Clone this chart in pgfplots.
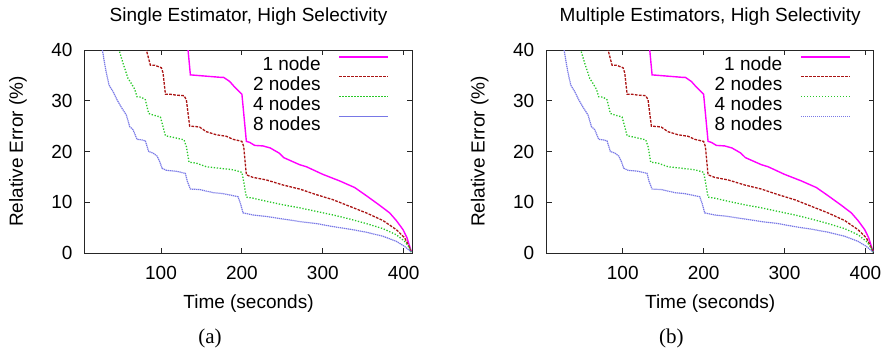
\documentclass[border=0pt]{standalone}
\usepackage{fontspec}
\setmainfont{Liberation Sans}
\newfontfamily\seriffont{Liberation Serif}
\usepackage{pgfplots}
\usepackage{pgfplotstable}
\pgfplotsset{compat=1.18}

\definecolor{cmag}{RGB}{255,0,255}
\definecolor{cred}{RGB}{170,20,20}
\definecolor{cgreen}{RGB}{40,200,40}
\definecolor{cblue}{RGB}{120,120,230}

\pgfplotstableread{
x y
133 45
133.4 40
136.3 35.1
174.6 34.6
177.5 34.6
184.9 33.8
191 32.7
200 31.3
205.5 22.0
209.6 21.8
215.8 21.2
226 21.1
235 20.7
245.9 19.7
251.6 18.8
271.4 17.4
279.7 17.0
300 15.5
320.9 14.2
339.4 12.9
353.8 11.3
370.3 9.4
382.7 7.9
390.9 6.4
399.2 4.6
404.1 3.0
407.4 1.3
409.5 0.3
}\one
\pgfplotstableread{
x y
80.5 42
81.9 40
86.8 37.0
92.2 37.0
100.4 36.5
102.5 35.5
105.4 31.3
110.7 31.3
119 31.1
128.4 31.0
131.3 30.2
135.4 25.0
143.7 24.9
147.8 24.8
156 23.9
168.4 23.3
180.8 23.0
189 22.4
200 22.0
202.2 21.0
205.5 15.4
213.7 14.9
230.2 14.4
236.4 14.1
250.8 13.4
271.4 12.6
292 11.5
312.6 10.5
333.2 9.2
353.8 7.9
374.4 6.4
390.9 4.6
401.2 3.0
406.6 1.3
409.5 0.1
}\two
\pgfplotstableread{
x y
46 42
48.1 40
53 37.4
59.2 34.4
63.3 33.4
67.4 32.3
70.3 30.8
75.7 30.7
80.6 30.2
84.7 27.5
90.1 27.2
99.2 26.8
102.5 24.9
105.4 23.1
114.8 22.8
128.4 22.3
131.3 21.0
134.6 17.9
143.7 17.7
156 17.0
172.5 16.7
189 16.4
200 15.9
202.2 14.1
205.5 11.0
213.7 10.8
230.2 10.2
250.8 9.5
271.4 8.9
292 8.2
312.6 7.5
333.2 6.7
353.8 5.8
374.4 4.8
390.9 3.6
401.2 2.3
407.4 1.0
409.5 0.1
}\four
\pgfplotstableread{
x y
26.5 42
27.5 40
31.6 36.1
35.7 33.1
40.7 31.8
45.6 30.2
51 28.7
57.1 27.2
61.3 24.9
65.4 24.3
70.3 22.4
75.7 22.3
80.6 22.1
84.7 20.0
90.1 19.7
95.1 19.1
98.4 18.0
101.2 16.7
106.6 16.3
119 16.1
130.1 15.7
132.6 14.1
136.3 12.6
147.8 12.5
164.3 11.9
176.6 11.7
195.2 11.1
198.1 9.8
201.4 7.9
213.7 7.5
230.2 7.2
250.8 6.7
271.4 6.2
292 5.8
312.6 5.2
333.2 4.7
353.8 4.1
374.4 3.3
390.9 2.3
401.2 1.3
409.5 0.2
}\eight

\pgfplotsset{
  myax/.style={
    scale only axis, width=327pt, height=203pt,
    xmin=6, xmax=410.3, ymin=0, ymax=40,
    xtick={100,200,300,400}, ytick={0,10,20,30,40},
    tick align=inside, major tick length=5pt,
    axis line style={line width=1pt, black!85},
    every tick/.style={line width=0.9pt, black!85},
    /pgf/number format/assume math mode=true,
    tick label style={font=\fontsize{19}{22}\selectfont, inner sep=0pt},
    xticklabel style={anchor=base, yshift=-26.3pt},
    yticklabel style={anchor=east, xshift=-12.3pt},
    label style={font=\fontsize{19}{22}\selectfont},
    title style={font=\fontsize{19}{22}\selectfont, at={(axis description cs:0.5,1)}, anchor=base, yshift=22.7pt, inner sep=0pt},
    xlabel style={at={(axis description cs:0.5,0)}, anchor=base, yshift=-55.3pt, inner sep=0pt},
    ylabel style={at={(axis description cs:0,0.5)}, anchor=center, yshift=67pt, inner sep=0pt},
    xlabel={Time (seconds)}, ylabel={Relative Error (\%)},
    legend plot pos=right,
    legend cell align=right,
    legend image code/.code={\draw[#1] (0pt,6.8pt) -- (49pt,6.8pt);},
    legend style={draw=none, fill=none, inner sep=0pt, outer sep=0pt,
      at={(rel axis cs:0.9297,0.9695)}, anchor=north east,
      font=\fontsize{19}{22}\selectfont,
      nodes={inner sep=0pt, text height=13.6pt, text depth=0pt},
      row sep=5.7pt, column sep=18pt},
  },
  s1/.style={cmag, line width=1.4pt},
  s2/.style={cred, line width=1.3pt, dash pattern=on 2.7pt off 1.3pt},
  s4/.style={cgreen, line width=1.3pt, dash pattern=on 1.3pt off 1.7pt},
  s8/.style={cblue, line width=1.2pt, dash pattern=on 1.3pt off 0.7pt},
}

\begin{document}
\begin{tikzpicture}
\path[use as bounding box] (0pt,0pt) rectangle (884pt,349pt);
\begin{axis}[myax, at={(85pt,96pt)}, anchor=south west,
  title={Single Estimator, High Selectivity}]
\addplot[s1] table[x=x,y=y] {\one};
\addplot[s2] table[x=x,y=y] {\two};
\addplot[s4] table[x=x,y=y] {\four};
\addplot[s8] table[x=x,y=y] {\eight};
\legend{1 node, 2 nodes, 4 nodes, 8 nodes}
\end{axis}
\begin{axis}[myax, at={(546.7pt,96pt)}, anchor=south west,
  title={Multiple Estimators, High Selectivity}]
\addplot[s1] table[x=x,y=y] {\one};
\addplot[s2] table[x=x,y=y] {\two};
\addplot[s4] table[x=x,y=y] {\four};
\addplot[s8] table[x=x,y=y] {\eight};
\legend{1 node, 2 nodes, 4 nodes, 8 nodes}
\end{axis}
\node[anchor=base, font=\seriffont\fontsize{21}{24}\selectfont, inner sep=0pt] at (210pt,5.7pt) {(a)};
\node[anchor=base, font=\seriffont\fontsize{21}{24}\selectfont, inner sep=0pt] at (671.3pt,5.7pt) {(b)};
\end{tikzpicture}
\end{document}
